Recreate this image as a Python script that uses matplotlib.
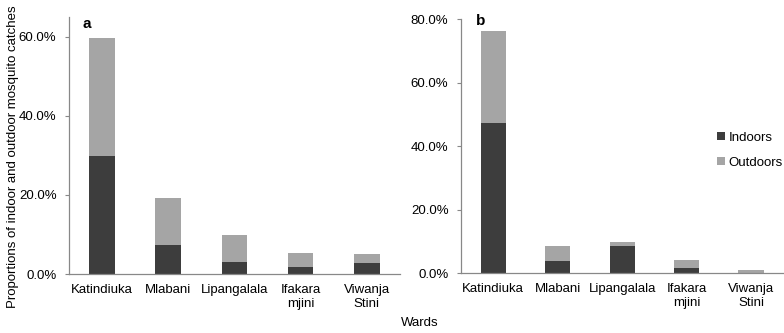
import matplotlib.pyplot as plt
import numpy as np
from matplotlib.ticker import PercentFormatter

plt.rcParams['font.family'] = ['Liberation Sans', 'DejaVu Sans']

wards = ['Katindiuka', 'Mlabani', 'Lipangalala', 'Ifakara\nmjini', 'Viwanja\nStini']

# panel a
indoor_a = [29.9, 7.3, 3.0, 1.8, 2.8]
outdoor_a = [29.7, 12.0, 6.9, 3.4, 2.3]
# panel b
indoor_b = [47.3, 3.9, 8.7, 1.8, 0.1]
outdoor_b = [29.1, 4.8, 1.2, 2.4, 0.9]

dark = '#3d3d3d'
light = '#a5a5a5'

fig = plt.figure(figsize=(7.84, 3.33), dpi=100)
ax_a = fig.add_axes([0.088, 0.177, 0.422, 0.772])
ax_b = fig.add_axes([0.588, 0.179, 0.411, 0.763])

def draw(ax, indoor, outdoor, ymax, step):
    x = np.arange(len(wards))
    ax.bar(x, indoor, width=0.39, color=dark, label='Indoors')
    ax.bar(x, outdoor, width=0.39, bottom=indoor, color=light, label='Outdoors')
    ax.set_xlim(-0.5, len(wards) - 0.5)
    ax.set_ylim(0, ymax)
    ax.set_yticks(np.arange(0, ymax + 0.1, step))
    ax.yaxis.set_major_formatter(PercentFormatter(decimals=1))
    ax.set_xticks(x)
    ax.set_xticklabels(wards, fontsize=9.5, linespacing=1.2)
    ax.tick_params(axis='x', length=0, pad=7)
    ax.tick_params(axis='y', length=3, pad=6, labelsize=9.5, color='#888888')
    for s in ['top', 'right']:
        ax.spines[s].set_visible(False)
    for s in ['left', 'bottom']:
        ax.spines[s].set_color('#888888')
        ax.spines[s].set_linewidth(0.9)

draw(ax_a, indoor_a, outdoor_a, 65, 20)
draw(ax_b, indoor_b, outdoor_b, 80, 20)

fig.text(0.016, 0.53, 'Proportions of indoor and outdoor mosquito catches',
         rotation=90, ha='center', va='center', fontsize=9.5)
ax_a.text(0.04, 1.0, 'a', transform=ax_a.transAxes, fontsize=11, fontweight='bold', va='top')
ax_b.text(0.045, 1.02, 'b', transform=ax_b.transAxes, fontsize=11, fontweight='bold', va='top')

ax_b.legend(loc='center left', bbox_to_anchor=(0.795, 0.485), frameon=False, fontsize=9.5,
            borderaxespad=0, borderpad=0,
            handlelength=0.6, handleheight=0.6, handletextpad=0.25, labelspacing=1.0)

fig.text(0.535, 0.02, 'Wards', ha='center', fontsize=9.5)

fig.savefig('out.png', dpi=100)
